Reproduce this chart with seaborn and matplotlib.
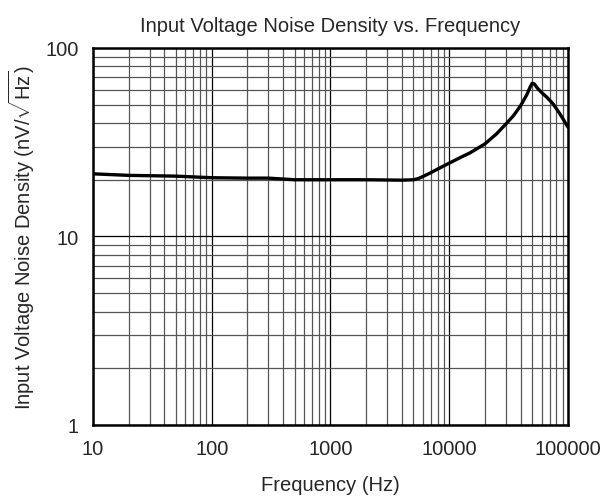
import matplotlib
matplotlib.use("Agg")
import matplotlib.pyplot as plt
import pandas as pd
import seaborn as sns
from matplotlib.ticker import FixedLocator, FixedFormatter, LogLocator, NullFormatter

freq_hz = [10, 20, 50, 100, 200, 300, 500, 1000, 2000, 4000, 5000, 5500, 6000, 7000,
           8000, 10000, 12500, 15000, 20000, 25000, 30000, 35000, 40000, 45000,
           48000, 50000, 52000, 55000, 60000, 66000, 75000, 85000, 92000, 100000]
noise_nv = [21.5, 21.1, 20.9, 20.5, 20.4, 20.4, 20.0, 20.0, 20.0, 19.9, 20.0, 20.3, 20.8, 21.8,
            22.8, 24.5, 26.3, 27.8, 31.0, 35.0, 39.5, 44.0, 49.5, 56.5,
            62.0, 65.0, 64.5, 61.5, 58.0, 55.0, 50.5, 45.0, 41.5, 38.0]

x_ticks = [10, 100, 1000, 10000, 100000]
x_labels = ["10", "100", "1000", "10000", "100000"]
y_ticks = [1, 10, 100]
y_labels = ["1", "10", "100"]

sns.set_style("white")
plt.rcParams["font.family"] = ["Liberation Sans", "DejaVu Sans"]
plt.rcParams["mathtext.fontset"] = "custom"
plt.rcParams["mathtext.rm"] = "Liberation Sans"

df = pd.DataFrame({"freq": freq_hz, "noise": noise_nv})

fig = plt.figure(figsize=(6.03, 5.02), dpi=100)
ax = fig.add_axes([0.1542, 0.1514, 0.7877, 0.751])

sns.lineplot(data=df, x="freq", y="noise", ax=ax, color="black", linewidth=2.4, zorder=5)

ax.set_xscale("log")
ax.set_yscale("log")
ax.set_xlim(10, 100000)
ax.set_ylim(1, 100)

ax.xaxis.set_major_locator(FixedLocator(x_ticks))
ax.xaxis.set_major_formatter(FixedFormatter(x_labels))
ax.yaxis.set_major_locator(FixedLocator(y_ticks))
ax.yaxis.set_major_formatter(FixedFormatter(y_labels))
ax.xaxis.set_minor_locator(LogLocator(base=10, subs=range(2, 10)))
ax.yaxis.set_minor_locator(LogLocator(base=10, subs=range(2, 10)))
ax.xaxis.set_minor_formatter(NullFormatter())
ax.yaxis.set_minor_formatter(NullFormatter())

ax.grid(True, which="major", color="black", linewidth=0.9)
ax.grid(True, which="minor", color="#555555", linewidth=0.9)
ax.tick_params(which="both", length=0, labelsize=14.5, pad=10)

for s in ax.spines.values():
    s.set_color("black")
    s.set_linewidth(1.8)

ax.set_title("Input Voltage Noise Density vs. Frequency", fontsize=14.5, pad=12)
ax.set_xlabel("Frequency (Hz)", fontsize=14.5, labelpad=12)
ax.set_ylabel(r"Input Voltage Noise Density (nV/$\sqrt{\mathrm{Hz}}$)", fontsize=14.5, labelpad=6)

fig.savefig("out.png", dpi=100)
